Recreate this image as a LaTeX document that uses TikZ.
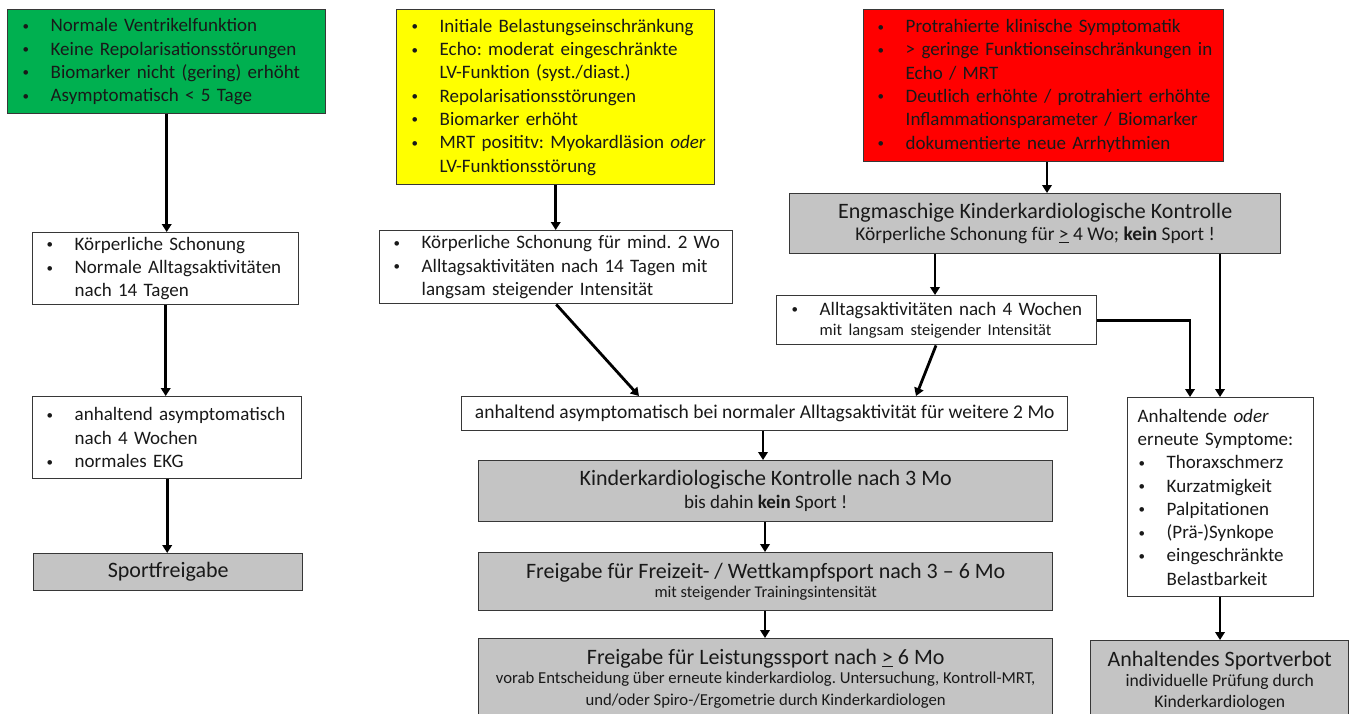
\documentclass[tikz,border=0pt]{standalone}
\usepackage{fontspec}
\setmainfont{Carlito}
\usetikzlibrary{arrows.meta}
\definecolor{pgreen}{RGB}{0,176,80}
\definecolor{pyellow}{RGB}{255,255,0}
\definecolor{pred}{RGB}{255,0,0}
\definecolor{gcol}{RGB}{196,196,196}
\definecolor{bcol}{RGB}{55,55,55}
\definecolor{tcol}{RGB}{25,25,25}
\newcommand\fM{\fontsize{19}{23.3}\selectfont}
\newcommand\fL{\fontsize{22}{26}\selectfont}
\newcommand\fS{\fontsize{16.5}{21}\selectfont}
\newcommand\bl[1]{\makebox[29pt][l]{\hspace*{1pt}\raisebox{1.5pt}{\fontsize{13}{13}\selectfont\textbullet}}\mbox{#1}}
\newcommand\il[1]{\hspace*{29pt}\mbox{#1}}
\frenchspacing
\begin{document}
\begin{tikzpicture}[x=1pt,y=-1pt,
  bx/.style={draw=bcol, line width=1.4pt, anchor=north west, align=left, font=\fM\frenchspacing, text=tcol, inner ysep=0pt},
  gbx/.style={bx, fill=gcol, align=center},
  arr/.style={line width=2.8pt, -{Triangle[length=8pt,width=9.5pt]}}]
\useasboundingbox (0,0) rectangle (1351,713);
\fill[white] (0,0) rectangle (1351,713);

% left column
\node[bx, fill=pgreen, minimum width=318pt, minimum height=104pt, inner xsep=14pt, text width=290pt] (A1) at (7,9)
 {\bl{Normale Ventrikelfunktion}\\ \bl{Keine Repolarisationsstörungen}\\ \bl{Biomarker nicht (gering) erhöht}\\ \bl{Asymptomatisch < 5 Tage}};
\node[bx, minimum width=266pt, minimum height=72pt, inner xsep=13pt, text width=240pt] (A2) at (32,232)
 {\bl{Körperliche Schonung}\\ \bl{Normale Alltagsaktivitäten}\\ \il{nach 14 Tagen}};
\node[bx, minimum width=269pt, minimum height=82pt, inner xsep=13pt, text width=243pt] (A3) at (32,396)
 {\bl{anhaltend asymptomatisch}\\ \il{nach 4 Wochen}\\ \bl{normales EKG}};
\node[gbx, minimum width=269pt, minimum height=37pt] (A4) at (33,553) {{\fL Sportfreigabe}};

% middle column
\node[bx, fill=pyellow, minimum width=318pt, minimum height=175pt, inner xsep=14pt, text width=290pt] (B1) at (396,9)
 {\bl{Initiale Belastungseinschränkung}\\ \bl{Echo: moderat eingeschränkte}\\ \il{LV-Funktion (syst./diast.)}\\ \bl{Repolarisationsstörungen}\\ \bl{Biomarker erhöht}\\ \bl{MRT posititv: Myokardläsion \emph{oder}}\\ \il{LV-Funktionsstörung}};
\node[bx, minimum width=353pt, minimum height=73pt, inner xsep=13pt, text width=327pt] (B2) at (379,230)
 {\bl{Körperliche Schonung für mind. 2 Wo}\\ \bl{Alltagsaktivitäten nach 14 Tagen mit}\\ \il{langsam steigender Intensität}};

% right column
\node[bx, fill=pred, minimum width=360pt, minimum height=152pt, inner xsep=13pt, text width=334pt] (C1) at (863,9)
 {\bl{Protrahierte klinische Symptomatik}\\ \bl{> geringe Funktionseinschränkungen in}\\ \il{Echo / MRT}\\ \bl{Deutlich erhöhte / protrahiert erhöhte}\\ \il{Inflammationsparameter / Biomarker}\\ \bl{dokumentierte neue Arrhythmien}};
\node[gbx, minimum width=491pt, minimum height=60pt] (C2) at (789,193)
 {{\fL Engmaschige Kinderkardiologische Kontrolle}\\[-1pt] {\fontsize{19.4}{23}\selectfont Körperliche Schonung für \underline{>} 4 Wo; \textbf{kein} Sport !}};
\node[bx, minimum width=320pt, minimum height=49pt, inner xsep=14pt, text width=292pt] (C3) at (776,295)
 {\bl{Alltagsaktivitäten nach 4 Wochen}\\[-3pt] \il{\fS mit langsam steigender Intensität}};

% central lower column
\node[bx, align=center, minimum width=606pt, minimum height=34pt] (D1) at (461,396)
 {{\fontsize{19.5}{23}\selectfont anhaltend asymptomatisch bei normaler Alltagsaktivität für weitere 2 Mo}};
\node[gbx, minimum width=574pt, minimum height=61pt] (D2) at (478,460)
 {{\fL Kinderkardiologische Kontrolle nach 3 Mo}\\[0pt] {\fontsize{19}{22}\selectfont bis dahin \textbf{kein} Sport !}};
\node[gbx, minimum width=574pt, minimum height=58pt] (D3) at (478,552)
 {{\fL Freigabe für Freizeit- / Wettkampfsport nach 3 – 6 Mo}\\[-4pt] {\fontsize{16.4}{20}\selectfont mit steigender Trainingsintensität}};
\node[gbx, minimum width=574pt, minimum height=80pt] (D4) at (478,638)
 {{\fL Freigabe für Leistungssport nach \underline{>} 6 Mo}\\[-4pt] {\fontsize{16.7}{20}\selectfont vorab Entscheidung über erneute kinderkardiolog. Untersuchung, Kontroll-MRT,}\\[-2pt] {\fontsize{16.7}{20}\selectfont und/oder Spiro-/Ergometrie durch Kinderkardiologen}};

% far right
\node[bx, minimum width=186pt, minimum height=199pt, inner xsep=10pt, text width=166pt] (E1) at (1127,397)
 {\mbox{Anhaltende \emph{oder}}\\ \mbox{erneute Symptome:}\\ \bl{Thoraxschmerz}\\ \bl{Kurzatmigkeit}\\ \bl{Palpitationen}\\ \bl{(Prä-)Synkope}\\ \bl{eingeschränkte}\\ \il{Belastbarkeit}};
\node[gbx, minimum width=258pt, minimum height=80pt] (E2) at (1090,640)
 {{\fL Anhaltendes Sportverbot}\\[-3pt] {\fontsize{17.6}{21}\selectfont individuelle Prüfung durch}\\[-3pt] {\fontsize{17.6}{21}\selectfont Kinderkardiologen}};

% helper coordinates
\coordinate (c1) at ([xshift=184pt]C1.south west);
\coordinate (c2) at ([xshift=146pt]C2.south west);
\coordinate (c3) at ([xshift=431pt]C2.south west);
\coordinate (c4) at ([xshift=160pt]C3.south west);
\coordinate (d1a) at ([xshift=178pt]D1.north west);
\coordinate (d1b) at ([xshift=455pt]D1.north west);
\coordinate (d1s) at ([xshift=302pt]D1.south west);
\coordinate (d2s) at ([xshift=287pt]D2.south west);
\coordinate (d3s) at ([xshift=287pt]D3.south west);
\coordinate (e1a) at ([xshift=63pt]E1.north west);
\coordinate (e1s) at ([xshift=93pt]E1.south west);

% connectors
\draw[arr] (A1.south) -- (A1.south |- A2.north);
\draw[arr] (A2.south) -- (A2.south |- A3.north);
\draw[arr] (A3.south) -- (A3.south |- A4.north);
\draw[arr] (B1.south) -- (B1.south |- B2.north);
\draw[arr] (B2.south) -- (d1a);
\draw[arr] (c1) -- (c1 |- C2.north);
\draw[arr] (c2) -- (c2 |- C3.north);
\draw[arr] (c4) -- (d1b);
\draw[arr] (C3.east) -| (e1a);
\draw[arr] (c3) -- (c3 |- E1.north);
\draw[arr] (d1s) -- (d1s |- D2.north);
\draw[arr] (d2s) -- (d2s |- D3.north);
\draw[arr] (d3s) -- (d3s |- D4.north);
\draw[arr] (e1s) -- (e1s |- E2.north);
\end{tikzpicture}
\end{document}
